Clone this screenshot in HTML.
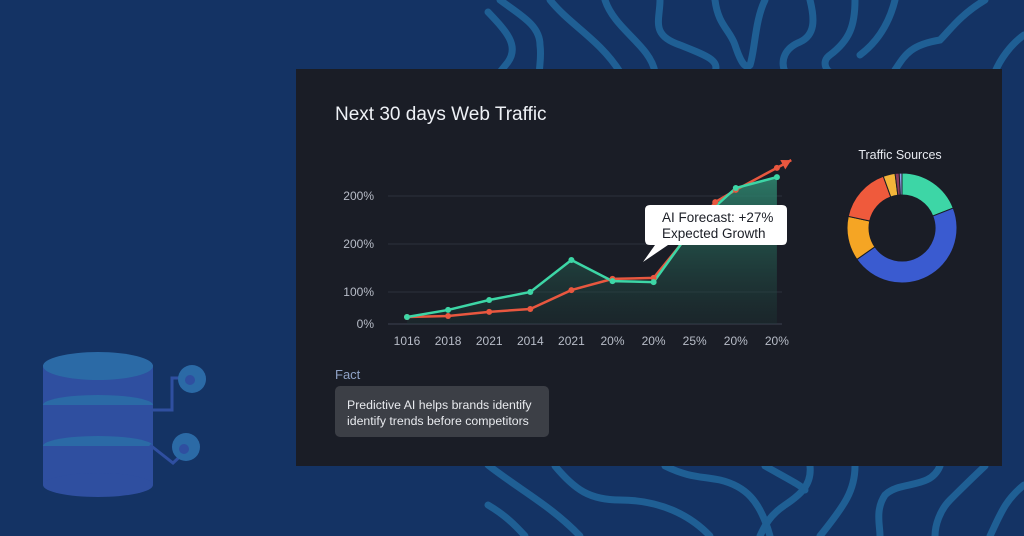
<!DOCTYPE html>
<html><head><meta charset="utf-8"><style>
html,body{margin:0;padding:0}
body{width:1024px;height:536px;overflow:hidden;background:#143364;font-family:"Liberation Sans",sans-serif;position:relative}
#bg{position:absolute;left:0;top:0}
#card{position:absolute;left:296px;top:69px;width:706px;height:397px;background:#1a1d26}
#title{position:absolute;left:335px;top:104px;color:#eef1f6;font-size:19px;white-space:nowrap}
#chart{position:absolute;left:0;top:0}
#fact-label{position:absolute;left:335px;top:367px;color:#8fa2c6;font-size:13px}
#fact-box{position:absolute;left:335px;top:386px;width:214px;height:51px;background:#3c3f46;border-radius:5px;color:#e8eaee;font-size:12.3px;line-height:16px;box-sizing:border-box;padding:11px 0 0 12px}
</style></head><body>
<svg id="bg" width="1024" height="536">
 <g fill="none" stroke="#1f5f94" stroke-width="7" stroke-linecap="round">
  <path d="M488 12 C505 30,520 45,508 62 L500 72"/>
  <path d="M500 0 C520 15,540 25,540 45 C542 60,538 70,540 75"/>
  <path d="M550 0 C570 25,600 40,620 72"/>
  <path d="M605 0 C615 30,650 45,655 72"/>
  <path d="M660 0 C660 20,650 35,680 45 C705 55,720 60,715 72"/>
  <path d="M715 0 C718 25,730 30,735 45 C740 60,745 70,750 65 C755 50,755 20,765 0"/>
  <path d="M810 0 C815 20,815 35,800 42 C785 48,780 60,785 72"/>
  <path d="M855 0 C855 25,850 40,830 55 C820 62,828 72,830 72"/>
  <path d="M895 0 C890 20,880 40,860 55"/>
  <path d="M985 0 C960 15,950 30,940 40 C910 45,905 55,895 70"/>
  <path d="M1024 35 C1010 45,1000 60,995 72"/>
  <path d="M488 465 C520 490,550 505,580 536"/>
  <path d="M488 505 C505 515,515 525,525 536"/>
  <path d="M555 466 C575 490,590 500,620 500 C660 500,690 515,710 536"/>
  <path d="M665 466 C690 478,700 476,720 480 C745 486,760 500,770 536"/>
  <path d="M765 466 C790 480,800 485,805 490"/>
  <path d="M810 466 C812 485,800 495,785 505 C770 515,765 525,760 536"/>
  <path d="M855 466 C855 490,845 505,820 536"/>
  <path d="M940 466 C930 490,900 480,885 495 C875 510,880 525,880 536"/>
  <path d="M985 466 C970 480,960 490,950 500 C940 510,935 525,935 536"/>
  <path d="M1024 485 C1005 500,1000 515,990 536"/>
 </g>
 <g>
  <rect x="43" y="365" width="110" height="120" fill="#2f4fa0"/>
  <ellipse cx="98" cy="485" rx="55" ry="12" fill="#2f4fa0"/>
  <ellipse cx="98" cy="446" rx="55" ry="10" fill="#2b6aa6"/>
  <rect x="43" y="446" width="110" height="10" fill="#2f4fa0"/>
  <ellipse cx="98" cy="405" rx="55" ry="10" fill="#2b6aa6"/>
  <rect x="43" y="405" width="110" height="12" fill="#2f4fa0"/>
  <ellipse cx="98" cy="366" rx="55" ry="14" fill="#2b6aa6"/>
  <path d="M153 410 H172 V378 H190 M150 445 L173 463 L187 450" fill="none" stroke="#2f4fa0" stroke-width="3"/>
  <circle cx="192" cy="379" r="14" fill="#2b6aa6"/><circle cx="190" cy="380" r="5" fill="#2f4fa0"/>
  <circle cx="186" cy="447" r="14" fill="#2b6aa6"/><circle cx="184" cy="449" r="5" fill="#2f4fa0"/>
 </g>
</svg>
<div id="card"></div>
<div id="title">Next 30 days Web Traffic</div>
<svg id="chart" width="1024" height="536">
 <defs><linearGradient id="ga" x1="0" y1="0" x2="0" y2="1"><stop offset="0" stop-color="#2f8a72" stop-opacity="0.85"/><stop offset="1" stop-color="#1c3a36" stop-opacity="0.3"/></linearGradient></defs>
 <g id="grid"></g><g id="area"></g><g id="lines"></g><g id="xlabels"></g><g id="donut"></g>
 <text x="900" y="159" fill="#e6e9ef" font-size="12.5" text-anchor="middle">Traffic Sources</text>
 <g>
  <path d="M650 205 H782 Q787 205 787 210 V240 Q787 245 782 245 H668 L643 262 L655 245 H650 Q645 245 645 240 V210 Q645 205 650 205 Z" fill="#fff"/>
  <text x="662" y="222" font-size="13.5" fill="#1b1e26">AI Forecast: +27%</text>
  <text x="662" y="238" font-size="13.5" fill="#1b1e26">Expected Growth</text>
 </g>
</svg>
<div id="fact-label">Fact</div>
<div id="fact-box">Predictive AI helps brands identify<br>identify trends before competitors</div>
<script>
const categories=['1016','2018','2021','2014','2021','20%','20%','25%','20%','20%'];
const actualValues=[22,44,75,100,200,134,131,309,425,459];
const forecastIdx=[0,1,2,3,4,5,6,7.5,8,9];
const forecastValues=[22,25,38,47,106,141,144,381,419,488];
const tickValues=[0,100,250,400];
const tickLabels=['0%','100%','200%','200%'];
const sourceNames=['Organic','Direct','Referral','Social','Email','Paid','Other'];
const sourceValues=[19,46,13,16,3.5,1.2,0.8];
const sourceColors=['#3dd6a6','#3a5bd0','#f5a524','#ef5a3c','#f3b53a','#8b3a5a','#8fa0e8'];
const NS='http://www.w3.org/2000/svg';
const x=i=>407+i*41.1;
const y=v=>324-v*0.32;
function mk(t,a,p){const e=document.createElementNS(NS,t);for(const k in a)e.setAttribute(k,a[k]);p.appendChild(e);return e;}
const grid=document.getElementById('grid');
tickValues.forEach((v,i)=>{
 const l=mk('line',{x1:388,x2:782,y1:y(v),y2:y(v),stroke:i==0?'#3c4150':'#2c313c','stroke-width':1},grid);
 
 
 const t=mk('text',{x:374,y:y(v)+4,fill:'#b8bdc8','font-size':12,'text-anchor':'end'},grid);t.textContent=tickLabels[i];
 
 
});
const xl=document.getElementById('xlabels');
categories.forEach((c,i)=>{const t=mk('text',{x:x(i),y:345,fill:'#b8bdc8','font-size':12,'text-anchor':'middle'},xl);t.textContent=c;
 
 });
const ap=actualValues.map((v,i)=>x(i)+','+y(v));
const area=mk('polygon',{points:ap.join(' ')+' '+x(actualValues.length-1)+','+y(0)+' '+x(0)+','+y(0),fill:'url(#ga)'},document.getElementById('area'));


const lines=document.getElementById('lines');
const fp=forecastValues.map((v,i)=>[x(forecastIdx[i]),y(v)]);
const n=fp.length,dx=fp[n-1][0]-fp[n-2][0],dy=fp[n-1][1]-fp[n-2][1];
const tip=[fp[n-1][0]+dx*0.35,fp[n-1][1]+dy*0.35];
const fl=mk('polyline',{points:fp.map(p=>p.join(',')).join(' ')+' '+tip.join(','),fill:'none',stroke:'#e8573f','stroke-width':2.5},lines);


const ang=Math.atan2(dy,dx);
const ah=mk('polygon',{points:[tip,[tip[0]-11*Math.cos(ang-0.5),tip[1]-11*Math.sin(ang-0.5)],[tip[0]-11*Math.cos(ang+0.5),tip[1]-11*Math.sin(ang+0.5)]].map(p=>p.join(',')).join(' '),fill:'#e8573f'},lines);


const al=mk('polyline',{points:ap.join(' '),fill:'none',stroke:'#3dd6a6','stroke-width':2.5},lines);


fp.forEach(p=>{const c=mk('circle',{cx:p[0],cy:p[1],r:3,fill:'#e8573f'},lines);
 
 });
actualValues.forEach((v,i)=>{const c=mk('circle',{cx:x(i),cy:y(v),r:3,fill:'#3dd6a6'},lines);
 
 });
const dn=document.getElementById('donut');const cx=902,cy=228,R=55,r=33;
const tot=sourceValues.reduce((a,b)=>a+b,0);let a0=0;
sourceValues.forEach((v,i)=>{const a1=a0+v/tot*2*Math.PI;
 const p=(a,rr)=>[cx+rr*Math.sin(a),cy-rr*Math.cos(a)];const L=(a1-a0)>Math.PI?1:0;
 const [x0,y0]=p(a0,R),[x1,y1]=p(a1,R),[x2,y2]=p(a1,r),[x3,y3]=p(a0,r);
 const s=mk('path',{d:`M${x0},${y0}A${R},${R} 0 ${L} 1 ${x1},${y1}L${x2},${y2}A${r},${r} 0 ${L} 0 ${x3},${y3}Z`,fill:sourceColors[i],stroke:'#1a1d26','stroke-width':1},dn);
 
 
 a0=a1;});
</script>
</body></html>
